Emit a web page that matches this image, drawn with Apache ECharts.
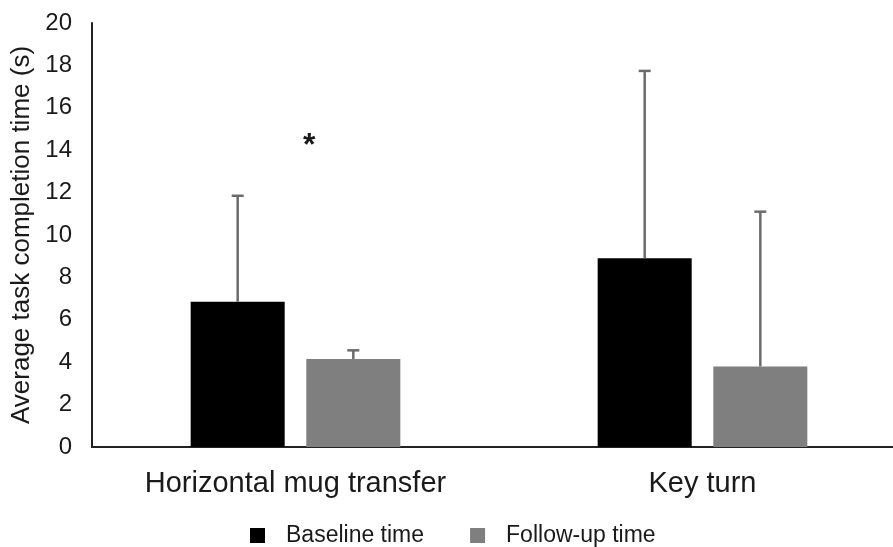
<!DOCTYPE html>
<html><head><meta charset="utf-8">
<script src="https://cdn.jsdelivr.net/npm/echarts@6/dist/echarts.min.js"></script>
<style>html,body{margin:0;padding:0;background:#fff}#c{width:893px;height:547px}</style>
</head><body><div id="c"></div>
<script>
const categories = ['Horizontal mug transfer', 'Key turn'];
const baseline = [6.85, 8.9];
const baselineUpper = [11.85, 17.74];
const followup = [4.15, 3.8];
const followupUpper = [4.56, 11.1];
const yTicks = [0, 2, 4, 6, 8, 10, 12, 14, 16, 18, 20];

const chart = echarts.init(document.getElementById('c'));
const FONT = 'Liberation Sans, Arial, sans-serif';
const TXT = '#1a1a1a';

function errSeries(means, uppers, sign) {
  return {
    type: 'custom',
    z: 5,
    silent: true,
    data: means.map((m, i) => [i, m, uppers[i]]),
    encode: { x: 0, y: [1, 2] },
    renderItem: function (params, api) {
      const i = api.value(0);
      const band = api.size([1, 0])[0];
      const bw = band * 0.231, gap = bw * 0.23;
      const off = sign * (bw + gap) / 2;
      const p0 = api.coord([i, api.value(1)]);
      const p1 = api.coord([i, api.value(2)]);
      const x = p0[0] + off;
      const style = { stroke: '#6b6b6b', lineWidth: 2.5 };
      return { type: 'group', children: [
        { type: 'line', shape: { x1: x, y1: p0[1], x2: x, y2: p1[1] }, style: style },
        { type: 'line', shape: { x1: x - 6, y1: p1[1], x2: x + 6, y2: p1[1] }, style: style }
      ]};
    }
  };
}

chart.setOption({
  animation: false,
  grid: { left: 92, top: 23, bottom: 100, width: 814, containLabel: false, outerBoundsMode: 'none' },
  legend: {
    top: 519, left: 245,
    itemWidth: 15, itemHeight: 15, itemGap: 46,
    textStyle: { fontFamily: FONT, fontSize: 23, color: TXT, padding: [0, 0, 0, 16] },
    data: [
      { name: 'Baseline time', icon: 'rect' },
      { name: 'Follow-up time', icon: 'rect' }
    ]
  },
  xAxis: {
    type: 'category', data: categories,
    axisLine: { lineStyle: { color: '#222', width: 2 } },
    axisTick: { show: false },
    axisLabel: { fontFamily: FONT, fontSize: 29, color: TXT, margin: 22 }
  },
  yAxis: {
    type: 'value', min: 0, max: 20, interval: 2,
    name: 'Average task completion time (s)',
    nameLocation: 'middle', nameGap: 57, nameRotate: 90,
    nameTextStyle: { fontFamily: FONT, fontSize: 26, color: TXT },
    axisLine: { show: true, lineStyle: { color: '#222', width: 2 } },
    axisTick: { show: false },
    splitLine: { show: false },
    axisLabel: { fontFamily: FONT, fontSize: 24, color: TXT, margin: 20,
      formatter: v => yTicks.includes(v) ? String(v) : '' }
  },
  series: [
    { name: 'Baseline time', type: 'bar', data: baseline, barWidth: '23.1%', barGap: '23%',
      itemStyle: { color: '#000' } },
    { name: 'Follow-up time', type: 'bar', data: followup, barWidth: '23.1%', barGap: '23%',
      itemStyle: { color: '#7f7f7f' } },
    errSeries(baseline, baselineUpper, -1),
    errSeries(followup, followupUpper, 1)
  ],
  graphic: [
    { type: 'text', left: 303, top: 130,
      style: { text: '*', fontFamily: FONT, fontSize: 32, fontWeight: 'bold', fill: TXT } }
  ]
});
</script></body></html>
